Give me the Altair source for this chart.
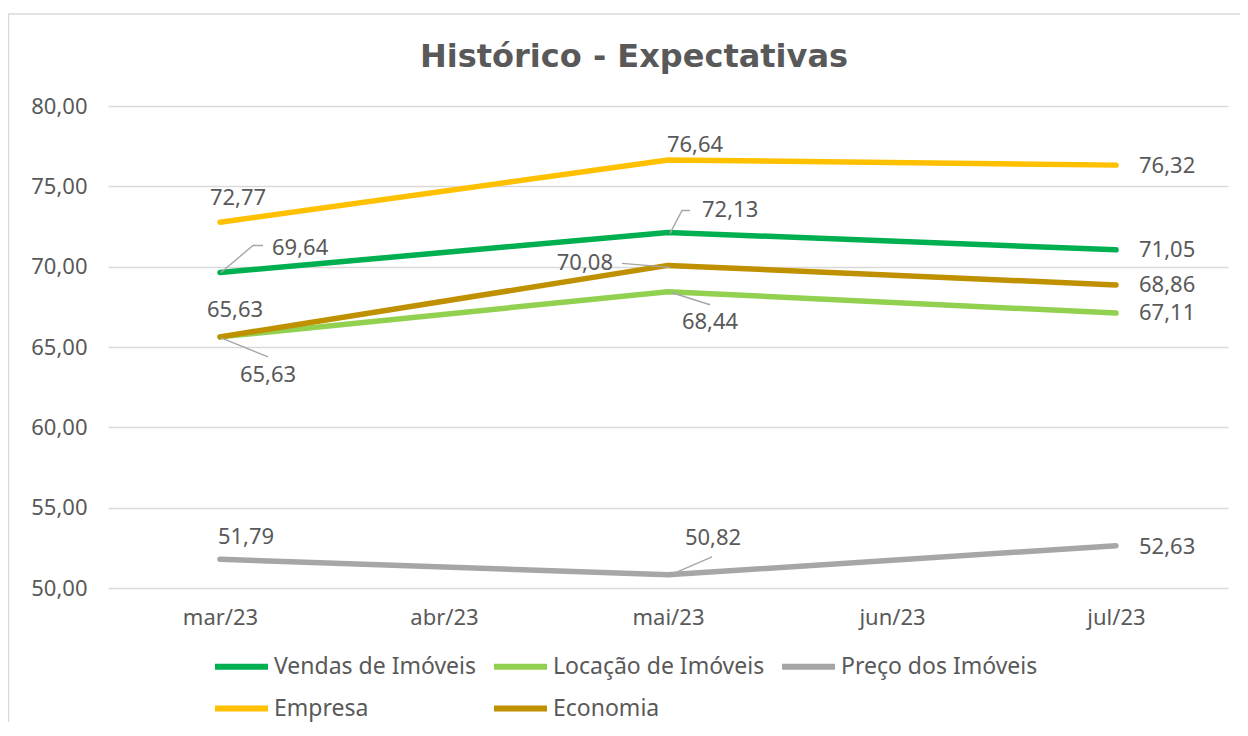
import json
import altair as alt
import pandas as pd

# ---- data ----
months = ["mar/23", "abr/23", "mai/23", "jun/23", "jul/23"]
data_months = ["mar/23", "mai/23", "jul/23"]
series = ["Vendas de Imóveis", "Locação de Imóveis", "Preço dos Imóveis", "Empresa", "Economia"]
vendas = [69.64, 72.13, 71.05]
locacao = [65.63, 68.44, 67.11]
preco = [51.79, 50.82, 52.63]
empresa = [72.77, 76.64, 76.32]
economia = [65.63, 70.08, 68.86]
y_ticks = [50, 55, 60, 65, 70, 75, 80]
title_text = "Histórico - Expectativas"

# ---- style ----
colors = ["#00B050", "#92D050", "#A6A6A6", "#FFC000", "#BF9000"]
TEXT = "#595959"
FONT = "Noto Sans"
W, H = 1120, 482
Y_DOMAIN = [50, 80]
X_DOMAIN = [-0.5, 4.5]

values = dict(zip(series, [vendas, locacao, preco, empresa, economia]))
rows = []
for s in series:
    for m, v in zip(data_months, values[s]):
        rows.append({"serie": s, "mes": m, "idx": months.index(m), "valor": v,
                     "rotulo": f"{v:.2f}".replace(".", ",")})
df = pd.DataFrame(rows)

# label placement (style): serie, month, align, dx, dy
label_style = [
    ("Empresa", "mar/23", "center", 18, -24),
    ("Empresa", "mai/23", "center", 27, -15),
    ("Empresa", "jul/23", "left", 23, 1),
    ("Vendas de Imóveis", "mar/23", "left", 52, -24),
    ("Vendas de Imóveis", "mai/23", "left", 34, -22),
    ("Vendas de Imóveis", "jul/23", "left", 23, 0),
    ("Economia", "mar/23", "center", 15, -27),
    ("Economia", "mai/23", "right", -55, -2),
    ("Economia", "jul/23", "left", 23, 0),
    ("Locação de Imóveis", "mar/23", "center", 48, 38),
    ("Locação de Imóveis", "mai/23", "center", 42, 30),
    ("Locação de Imóveis", "jul/23", "left", 23, 0),
    ("Preço dos Imóveis", "mar/23", "center", 26, -22),
    ("Preço dos Imóveis", "mai/23", "center", 45, -37),
    ("Preço dos Imóveis", "jul/23", "left", 23, 1),
]

# leader lines (style): pixel offsets from the data point
leader_style = [
    ("Vendas de Imóveis", "mar/23", [(1, 0), (33, -27), (43, -27)]),
    ("Vendas de Imóveis", "mai/23", [(2, 1), (14, -22), (22, -22)]),
    ("Economia", "mai/23", [(-46, -2), (2, 2)]),
    ("Locação de Imóveis", "mai/23", [(4, 1), (42, 13)]),
    ("Locação de Imóveis", "mar/23", [(1, 1), (48, 20)]),
    ("Preço dos Imóveis", "mai/23", [(7, -2), (44, -18)]),
]
px_x = W / (X_DOMAIN[1] - X_DOMAIN[0])
px_y = H / (Y_DOMAIN[1] - Y_DOMAIN[0])
lrows = []
for lid, (s, m, pts) in enumerate(leader_style):
    v = values[s][data_months.index(m)]
    i = months.index(m)
    for k, (dx, dy) in enumerate(pts):
        lrows.append({"lid": lid, "k": k, "idx": i + dx / px_x, "valor": v - dy / px_y})
ldf = pd.DataFrame(lrows)

label_expr = json.dumps(months) + "[datum.value]"

x_enc = alt.X("idx:Q",
              scale=alt.Scale(domain=X_DOMAIN, nice=False, zero=False),
              axis=alt.Axis(values=list(range(len(months))), labelExpr=label_expr,
                            grid=False, domain=False, ticks=False, labelPadding=19,
                            title=None))
y_enc = alt.Y("valor:Q",
              scale=alt.Scale(domain=Y_DOMAIN, nice=False, zero=False),
              axis=alt.Axis(values=y_ticks,
                            labelExpr="replace(format(datum.value, '.2f'), '.', ',')",
                            grid=True, gridColor="#D9D9D9", gridWidth=1.3,
                            domain=False, ticks=False, labelPadding=21, title=None))

color_enc = alt.Color("serie:N",
                      scale=alt.Scale(domain=series, range=colors),
                      sort=series,
                      legend=alt.Legend(title=None, orient="none", legendX=104, legendY=531,
                                        direction="horizontal",
                                        columns=3, symbolType="stroke", symbolSize=2809,
                                        symbolStrokeWidth=6, labelFont=FONT, labelFontSize=23,
                                        labelColor=TEXT, labelOffset=3, columnPadding=5,
                                        rowPadding=-12, padding=0, labelLimit=400))

one = pd.DataFrame({"t": [title_text]})

border = alt.Chart(one).mark_rect(
    filled=False, stroke="#D9D9D9", strokeWidth=1.5
).encode(x=alt.value(-99.5), x2=alt.value(1400), y=alt.value(-92), y2=alt.value(800))

title_mark = alt.Chart(one).mark_text(
    font="DejaVu Sans", fontSize=32, fontWeight="bold", color=TEXT,
    align="center", baseline="alphabetic"
).encode(x=alt.value(526), y=alt.value(-39), text="t:N")

lines = alt.Chart(df).mark_line(strokeWidth=5.5, strokeCap="round", strokeJoin="round").encode(
    x=x_enc, y=y_enc, color=color_enc, detail="serie:N")

leaders = alt.Chart(ldf).mark_line(color="#A6A6A6", strokeWidth=1.4).encode(
    x=x_enc, y=y_enc, detail="lid:N", order="k:Q")

layers = [border, title_mark, lines, leaders]
for s, m, align, dx, dy in label_style:
    layers.append(
        alt.Chart(df).transform_filter(
            (alt.datum.serie == s) & (alt.datum.mes == m)
        ).mark_text(align=align, baseline="middle", dx=dx, dy=dy, fontSize=22,
                    font=FONT, color=TEXT).encode(x=x_enc, y=y_enc, text="rotulo:N")
    )

chart = alt.layer(*layers).properties(
    width=W, height=H,
    background="white",
    autosize=alt.AutoSizeParams(type="none"),
    padding={"left": 100, "top": 98, "right": 12, "bottom": 134},
).configure_view(stroke=None).configure_axis(
    labelFont=FONT, labelFontSize=22, labelColor=TEXT
)

chart.save("out.html", embed_options={"renderer": "svg", "actions": False})
